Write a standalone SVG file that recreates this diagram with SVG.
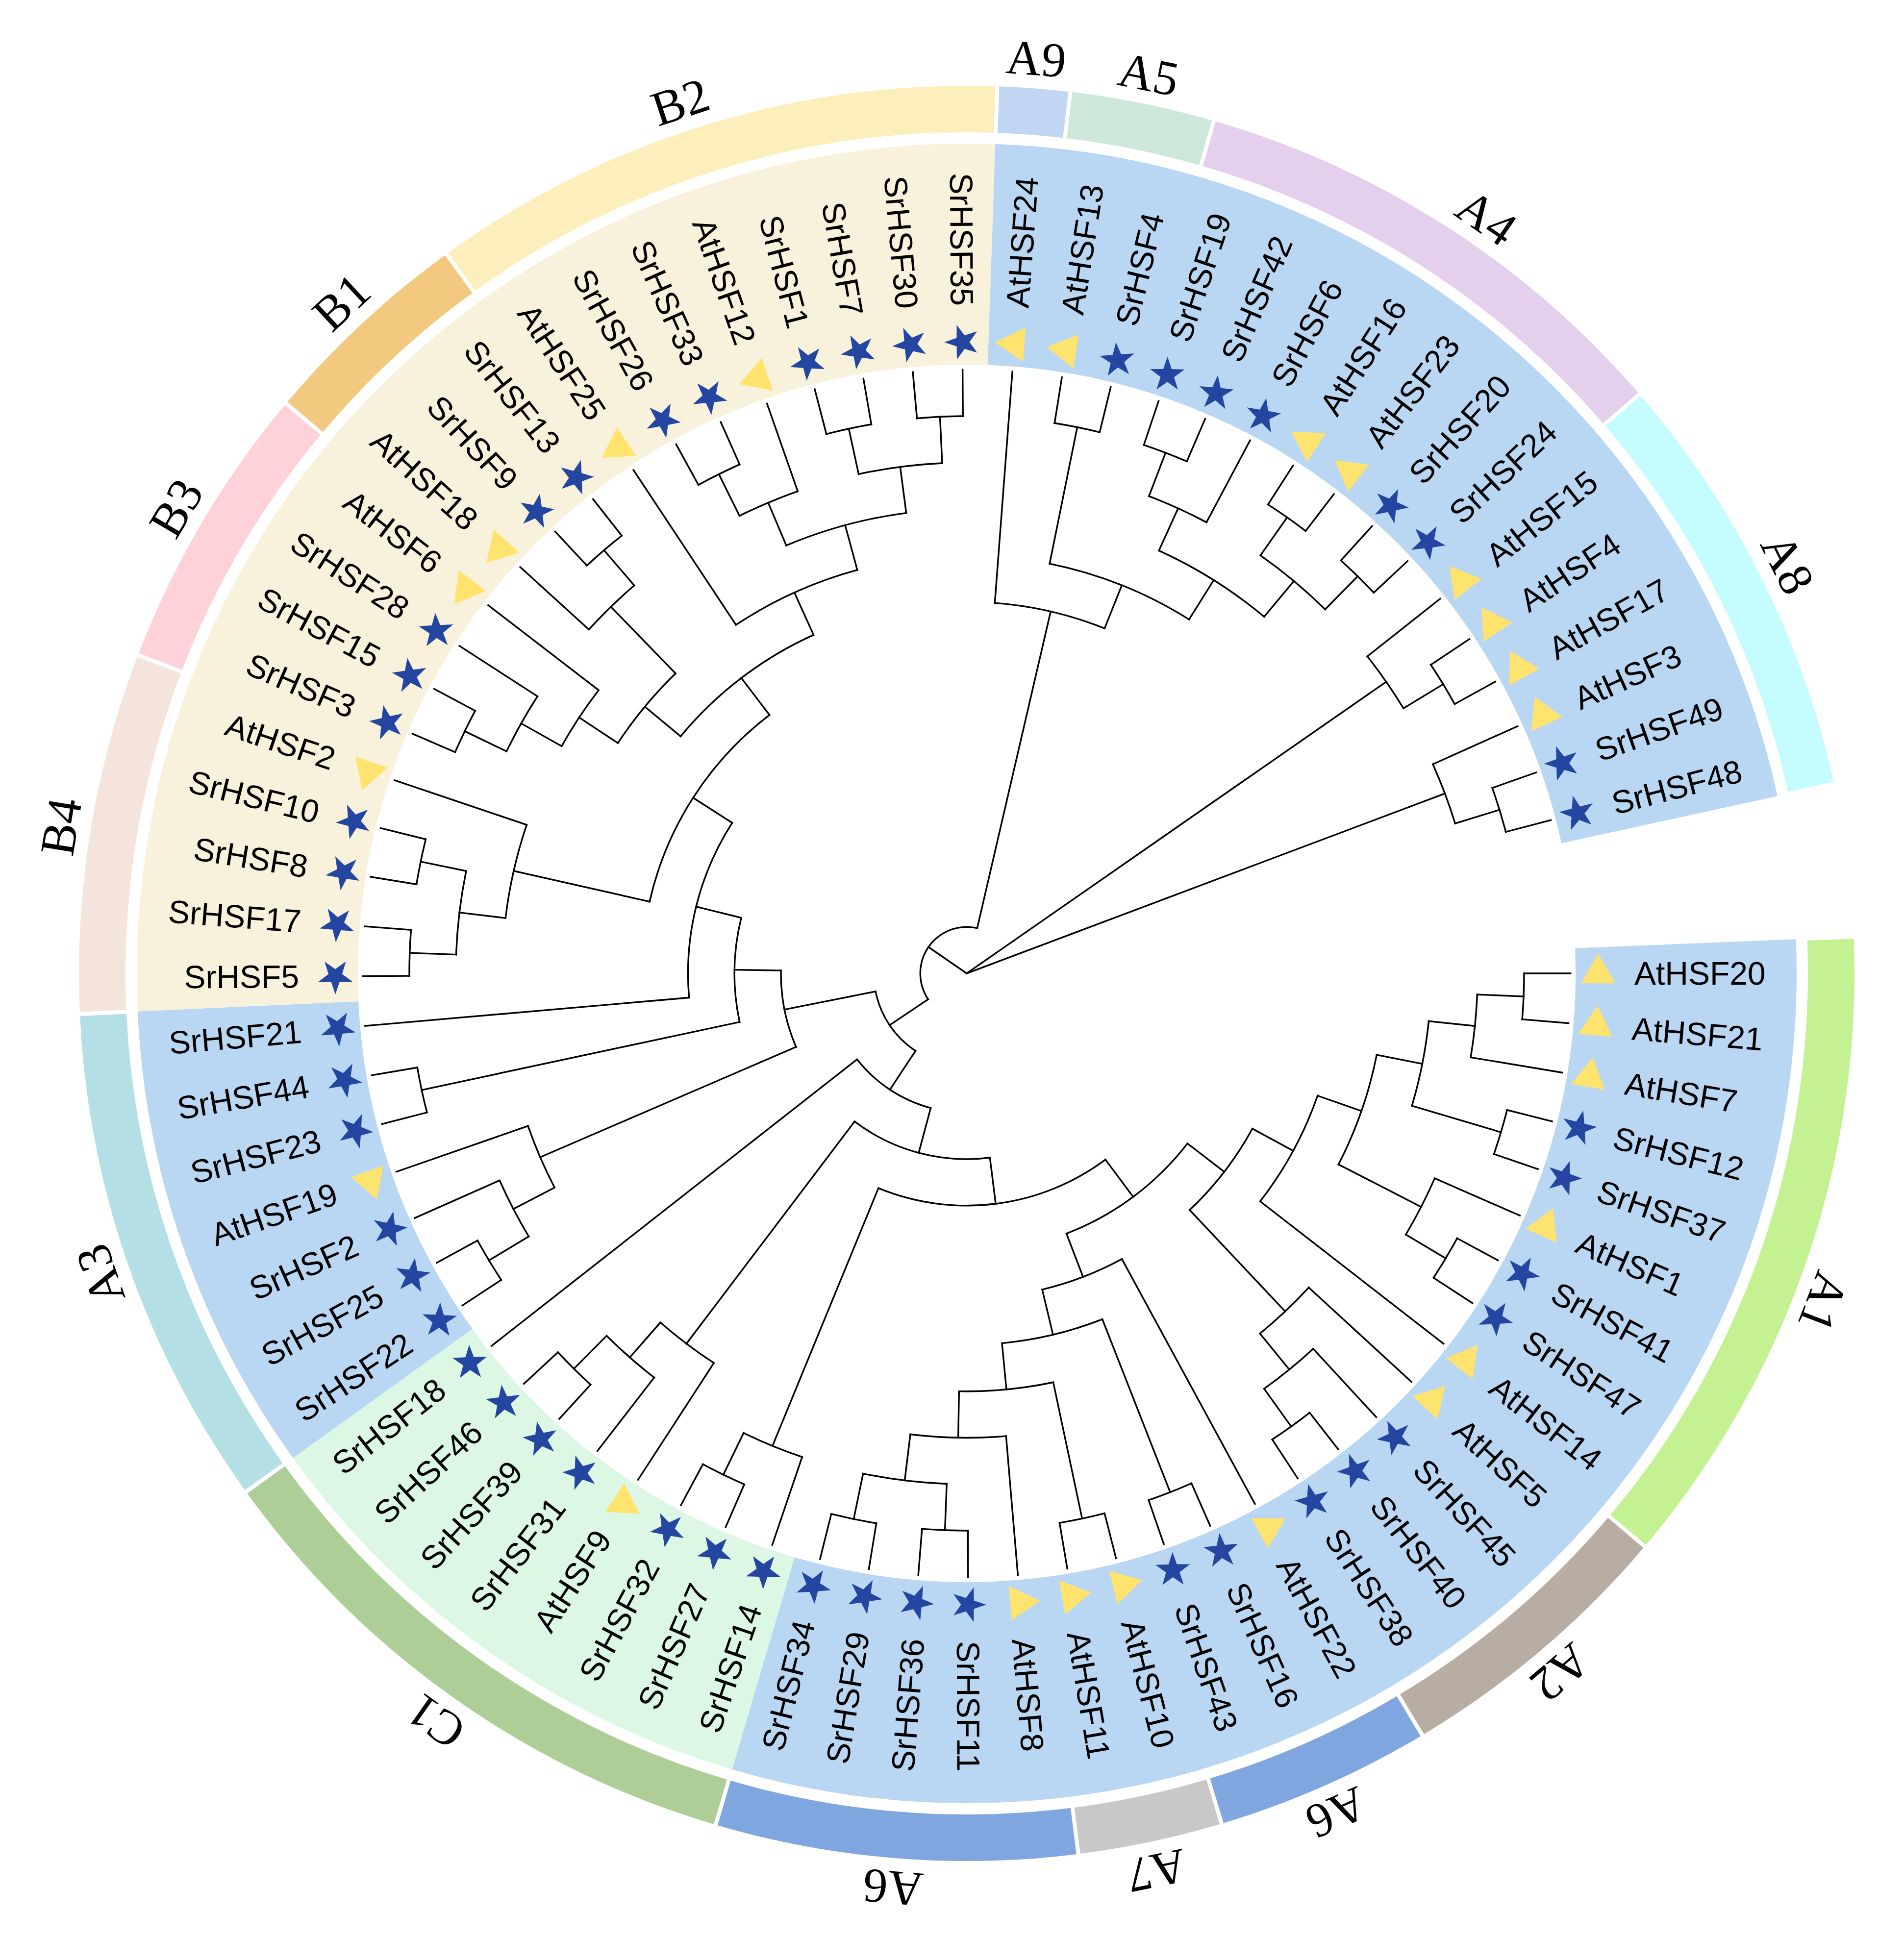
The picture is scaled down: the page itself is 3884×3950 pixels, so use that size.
<svg xmlns="http://www.w3.org/2000/svg" width="3884" height="3950" viewBox="0 0 3884 3950">
<style>
.tree path,.tree circle{fill:none;stroke:#000;stroke-width:3.4;stroke-linecap:square}
.lbl{font-family:"Liberation Sans",Arial,sans-serif;font-size:66px;fill:#000}
.f{text-anchor:end}
.cl{font-family:"Liberation Serif","Times New Roman",serif;font-size:100px;text-anchor:middle;fill:#000}
.star{fill:#2445A0}
.tri{fill:#FFE36F}
.ring{fill:none;stroke-width:95}
.band{fill:none;stroke-width:451}
</style>
<defs>
<polygon id="star" class="star" points="0,-37 8.52,-11.73 35.19,-11.43 13.79,4.48 21.75,29.93 0,14.5 -21.75,29.93 -13.79,4.48 -35.19,-11.43 -8.52,-11.73"/>
<polygon id="tri" class="tri" points="0,-40.4 35,20.2 -35,20.2"/>
</defs>
<rect width="3884" height="3950" fill="#fff"/>
<g transform="translate(1972,1986)">
<g id="bands">
<circle class="band" r="1467.5" pathLength="360" stroke="#B9D7F3" stroke-dasharray="108.79 400" transform="rotate(-2.365)"/>
<circle class="band" r="1467.5" pathLength="360" stroke="#DCF8E4" stroke-dasharray="37.84 400" transform="rotate(106.425)"/>
<circle class="band" r="1467.5" pathLength="360" stroke="#B9D7F3" stroke-dasharray="33.11 400" transform="rotate(144.265)"/>
<circle class="band" r="1467.5" pathLength="360" stroke="#F8F1DB" stroke-dasharray="94.6 400" transform="rotate(177.375)"/>
<circle class="band" r="1467.5" pathLength="360" stroke="#B9D7F3" stroke-dasharray="75.68 400" transform="rotate(271.975)"/>
</g>
<g id="clade-A1"><circle class="ring" r="1763.5" pathLength="360" stroke="#C4F191" stroke-dasharray="42.31 400" transform="rotate(-2.235)"/><text class="cl" transform="rotate(21) translate(1838,0) rotate(90)">A1</text></g>
<g id="clade-A2"><circle class="ring" r="1763.5" pathLength="360" stroke="#B7ADA3" stroke-dasharray="18.66 400" transform="rotate(40.335)"/><text class="cl" transform="rotate(49.67) translate(1838,0) rotate(90)">A2</text></g>
<g id="clade-A6a"><circle class="ring" r="1763.5" pathLength="360" stroke="#7FA6DF" stroke-dasharray="13.93 400" transform="rotate(59.255)"/><text class="cl" transform="rotate(66.22) translate(1838,0) rotate(90)">A6</text></g>
<g id="clade-A7"><circle class="ring" r="1763.5" pathLength="360" stroke="#C8C8C8" stroke-dasharray="9.2 400" transform="rotate(73.445)"/><text class="cl" transform="rotate(78.05) translate(1838,0) rotate(90)">A7</text></g>
<g id="clade-A6b"><circle class="ring" r="1763.5" pathLength="360" stroke="#7FA6DF" stroke-dasharray="23.39 400" transform="rotate(82.905)"/><text class="cl" transform="rotate(94.6) translate(1838,0) rotate(90)">A6</text></g>
<g id="clade-C1"><circle class="ring" r="1763.5" pathLength="360" stroke="#AECE97" stroke-dasharray="37.58 400" transform="rotate(106.555)"/><text class="cl" transform="rotate(125.35) translate(1838,0) rotate(90)">C1</text></g>
<g id="clade-A3"><circle class="ring" r="1763.5" pathLength="360" stroke="#B4E0E5" stroke-dasharray="32.85 400" transform="rotate(144.395)"/><text class="cl" transform="rotate(160.82) translate(1838,0) rotate(90)">A3</text></g>
<g id="clade-B4"><circle class="ring" r="1763.5" pathLength="360" stroke="#F5E4DC" stroke-dasharray="23.39 400" transform="rotate(177.505)"/><text class="cl" transform="rotate(189.2) translate(1838,0) rotate(90)">B4</text></g>
<g id="clade-B3"><circle class="ring" r="1763.5" pathLength="360" stroke="#FFD2DA" stroke-dasharray="18.66 400" transform="rotate(201.155)"/><text class="cl" transform="rotate(210.49) translate(1838,0) rotate(90)">B3</text></g>
<g id="clade-B1"><circle class="ring" r="1763.5" pathLength="360" stroke="#F2C97E" stroke-dasharray="13.93 400" transform="rotate(220.075)"/><text class="cl" transform="rotate(227.04) translate(1838,0) rotate(90)">B1</text></g>
<g id="clade-B2"><circle class="ring" r="1763.5" pathLength="360" stroke="#FCEFBB" stroke-dasharray="37.58 400" transform="rotate(234.265)"/><text class="cl" transform="rotate(251.8) translate(1838,0) rotate(90)">B2</text></g>
<g id="clade-A9"><circle class="ring" r="1763.5" pathLength="360" stroke="#C1D6F2" stroke-dasharray="4.47 400" transform="rotate(272.105)"/><text class="cl" transform="rotate(274.34) translate(1838,0) rotate(90)">A9</text></g>
<g id="clade-A5"><circle class="ring" r="1763.5" pathLength="360" stroke="#CDE8DB" stroke-dasharray="9.2 400" transform="rotate(276.835)"/><text class="cl" transform="rotate(281.44) translate(1838,0) rotate(90)">A5</text></g>
<g id="clade-A4"><circle class="ring" r="1763.5" pathLength="360" stroke="#E4D0ED" stroke-dasharray="32.85 400" transform="rotate(286.295)"/><text class="cl" transform="rotate(304.5) translate(1838,0) rotate(90)">A4</text></g>
<g id="clade-A8"><circle class="ring" r="1763.5" pathLength="360" stroke="#C5FCFE" stroke-dasharray="28.12 400" transform="rotate(319.405)"/><text class="cl" transform="rotate(333.47) translate(1838,0) rotate(90)">A8</text></g>

<g id="connectors" class="tree">
<circle r="94.75" pathLength="360" stroke-dasharray="136.95 400" transform="rotate(146.11)"/>
<circle r="189.5" pathLength="360" stroke-dasharray="45.34 400" transform="rotate(123.44)"/>
<circle r="284.25" pathLength="360" stroke-dasharray="36.93 400" transform="rotate(104.97)"/>
<circle r="379" pathLength="360" stroke-dasharray="24.21 400" transform="rotate(156.68)"/>
<circle r="379" pathLength="360" stroke-dasharray="44.29 400" transform="rotate(82.83)"/>
<circle r="473.75" pathLength="360" stroke-dasharray="25.94 400" transform="rotate(167.92)"/>
<circle r="473.75" pathLength="360" stroke-dasharray="59.02 400" transform="rotate(53.32)"/>
<circle r="568.5" pathLength="360" stroke-dasharray="37.69 400" transform="rotate(175.01)"/>
<circle r="568.5" pathLength="360" stroke-dasharray="31.41 400" transform="rotate(37.62)"/>
<circle r="663.25" pathLength="360" stroke-dasharray="39.91 400" transform="rotate(192.75)"/>
<circle r="663.25" pathLength="360" stroke-dasharray="15.08 400" transform="rotate(61.49)"/>
<circle r="663.25" pathLength="360" stroke-dasharray="18.18 400" transform="rotate(28.53)"/>
<circle r="758" pathLength="360" stroke-dasharray="26.01 400" transform="rotate(219.65)"/>
<circle r="758" pathLength="360" stroke-dasharray="15.96 400" transform="rotate(68.59)"/>
<circle r="758" pathLength="360" stroke-dasharray="18.62 400" transform="rotate(19.22)"/>
<circle r="758" pathLength="360" stroke-dasharray="17.44 400" transform="rotate(274.34)"/>
<circle r="852.75" pathLength="360" stroke-dasharray="12.42 400" transform="rotate(213.44)"/>
<circle r="852.75" pathLength="360" stroke-dasharray="18.33 400" transform="rotate(236.5)"/>
<circle r="852.75" pathLength="360" stroke-dasharray="13 400" transform="rotate(78.05)"/>
<circle r="852.75" pathLength="360" stroke-dasharray="15.97 400" transform="rotate(11.23)"/>
<circle r="852.75" pathLength="360" stroke-dasharray="20.69 400" transform="rotate(281.44)"/>
<circle r="947.5" pathLength="360" stroke-dasharray="15.38 400" transform="rotate(247.14)"/>
<circle r="947.5" pathLength="360" stroke-dasharray="8.28 400" transform="rotate(209.3)"/>
<circle r="947.5" pathLength="360" stroke-dasharray="11.82 400" transform="rotate(186.84)"/>
<circle r="947.5" pathLength="360" stroke-dasharray="8.28 400" transform="rotate(152.54)"/>
<circle r="947.5" pathLength="360" stroke-dasharray="8.28 400" transform="rotate(122.98)"/>
<circle r="947.5" pathLength="360" stroke-dasharray="11.83 400" transform="rotate(85.14)"/>
<circle r="947.5" pathLength="360" stroke-dasharray="10.65 400" transform="rotate(5.91)"/>
<circle r="947.5" pathLength="360" stroke-dasharray="8.28 400" transform="rotate(42.57)"/>
<circle r="947.5" pathLength="360" stroke-dasharray="15.38 400" transform="rotate(294.44)"/>
<circle r="1042.25" pathLength="360" stroke-dasharray="7.09 400" transform="rotate(2.37)"/>
<circle r="1042.25" pathLength="360" stroke-dasharray="7.1 400" transform="rotate(23.65)"/>
<circle r="1042.25" pathLength="360" stroke-dasharray="7.1 400" transform="rotate(47.3)"/>
<circle r="1042.25" pathLength="360" stroke-dasharray="9.46 400" transform="rotate(92.24)"/>
<circle r="1042.25" pathLength="360" stroke-dasharray="7.1 400" transform="rotate(108.79)"/>
<circle r="1042.25" pathLength="360" stroke-dasharray="7.1 400" transform="rotate(127.71)"/>
<circle r="1042.25" pathLength="360" stroke-dasharray="7.09 400" transform="rotate(149)"/>
<circle r="1042.25" pathLength="360" stroke-dasharray="9.46 400" transform="rotate(182.11)"/>
<circle r="1042.25" pathLength="360" stroke-dasharray="7.09 400" transform="rotate(205.76)"/>
<circle r="1042.25" pathLength="360" stroke-dasharray="7.1 400" transform="rotate(222.31)"/>
<circle r="1042.25" pathLength="360" stroke-dasharray="7.09 400" transform="rotate(243.6)"/>
<circle r="1042.25" pathLength="360" stroke-dasharray="9.46 400" transform="rotate(257.79)"/>
<circle r="1042.25" pathLength="360" stroke-dasharray="7.09 400" transform="rotate(290.9)"/>
<circle r="1042.25" pathLength="360" stroke-dasharray="9.46 400" transform="rotate(305.09)"/>
<circle r="1042.25" pathLength="360" stroke-dasharray="7.1 400" transform="rotate(321.64)"/>
<circle r="1042.25" pathLength="360" stroke-dasharray="7.1 400" transform="rotate(335.83)"/>
<circle r="1137" pathLength="360" stroke-dasharray="4.73 400" transform="rotate(0)"/>
<circle r="1137" pathLength="360" stroke-dasharray="4.73 400" transform="rotate(14.19)"/>
<circle r="1137" pathLength="360" stroke-dasharray="4.73 400" transform="rotate(28.38)"/>
<circle r="1137" pathLength="360" stroke-dasharray="4.73 400" transform="rotate(52.03)"/>
<circle r="1137" pathLength="360" stroke-dasharray="4.73 400" transform="rotate(66.22)"/>
<circle r="1137" pathLength="360" stroke-dasharray="4.73 400" transform="rotate(75.68)"/>
<circle r="1137" pathLength="360" stroke-dasharray="4.73 400" transform="rotate(89.87)"/>
<circle r="1137" pathLength="360" stroke-dasharray="4.73 400" transform="rotate(99.33)"/>
<circle r="1137" pathLength="360" stroke-dasharray="4.73 400" transform="rotate(113.52)"/>
<circle r="1137" pathLength="360" stroke-dasharray="4.73 400" transform="rotate(132.44)"/>
<circle r="1137" pathLength="360" stroke-dasharray="4.73 400" transform="rotate(146.63)"/>
<circle r="1137" pathLength="360" stroke-dasharray="4.73 400" transform="rotate(165.55)"/>
<circle r="1137" pathLength="360" stroke-dasharray="4.73 400" transform="rotate(179.74)"/>
<circle r="1137" pathLength="360" stroke-dasharray="4.73 400" transform="rotate(189.2)"/>
<circle r="1137" pathLength="360" stroke-dasharray="4.73 400" transform="rotate(203.39)"/>
<circle r="1137" pathLength="360" stroke-dasharray="4.73 400" transform="rotate(227.04)"/>
<circle r="1137" pathLength="360" stroke-dasharray="4.73 400" transform="rotate(241.23)"/>
<circle r="1137" pathLength="360" stroke-dasharray="4.73 400" transform="rotate(255.42)"/>
<circle r="1137" pathLength="360" stroke-dasharray="4.73 400" transform="rotate(264.88)"/>
<circle r="1137" pathLength="360" stroke-dasharray="4.73 400" transform="rotate(279.07)"/>
<circle r="1137" pathLength="360" stroke-dasharray="4.73 400" transform="rotate(288.53)"/>
<circle r="1137" pathLength="360" stroke-dasharray="4.73 400" transform="rotate(302.72)"/>
<circle r="1137" pathLength="360" stroke-dasharray="4.73 400" transform="rotate(312.18)"/>
<circle r="1137" pathLength="360" stroke-dasharray="4.73 400" transform="rotate(326.37)"/>
<circle r="1137" pathLength="360" stroke-dasharray="4.73 400" transform="rotate(340.56)"/>

<path transform="rotate(214.59)" d="M0 0H94.75"/>
<path transform="rotate(325.19)" d="M0 0H1042.25"/>
<path transform="rotate(339.38)" d="M0 0H1042.25"/>
<path transform="rotate(146.11)" d="M94.75 0H189.5"/>
<path transform="rotate(283.06)" d="M94.75 0H758"/>
<path transform="rotate(123.44)" d="M189.5 0H284.25"/>
<path transform="rotate(168.78)" d="M189.5 0H379"/>
<path transform="rotate(104.97)" d="M284.25 0H379"/>
<path transform="rotate(141.9)" d="M284.25 0H1231.75"/>
<path transform="rotate(156.68)" d="M379 0H947.5"/>
<path transform="rotate(180.89)" d="M379 0H473.75"/>
<path transform="rotate(82.83)" d="M379 0H473.75"/>
<path transform="rotate(127.12)" d="M379 0H947.5"/>
<path transform="rotate(167.92)" d="M473.75 0H1137"/>
<path transform="rotate(193.86)" d="M473.75 0H568.5"/>
<path transform="rotate(53.32)" d="M473.75 0H568.5"/>
<path transform="rotate(112.34)" d="M473.75 0H1042.25"/>
<path transform="rotate(175.01)" d="M568.5 0H1231.75"/>
<path transform="rotate(212.7)" d="M568.5 0H663.25"/>
<path transform="rotate(37.62)" d="M568.5 0H663.25"/>
<path transform="rotate(69.03)" d="M568.5 0H663.25"/>
<path transform="rotate(192.75)" d="M663.25 0H947.5"/>
<path transform="rotate(232.66)" d="M663.25 0H758"/>
<path transform="rotate(61.49)" d="M663.25 0H1231.75"/>
<path transform="rotate(76.57)" d="M663.25 0H758"/>
<path transform="rotate(28.53)" d="M663.25 0H758"/>
<path transform="rotate(46.71)" d="M663.25 0H947.5"/>
<path transform="rotate(219.65)" d="M758 0H852.75"/>
<path transform="rotate(245.66)" d="M758 0H852.75"/>
<path transform="rotate(68.59)" d="M758 0H1137"/>
<path transform="rotate(84.55)" d="M758 0H852.75"/>
<path transform="rotate(19.22)" d="M758 0H852.75"/>
<path transform="rotate(37.84)" d="M758 0H1231.75"/>
<path transform="rotate(274.34)" d="M758 0H1231.75"/>
<path transform="rotate(291.78)" d="M758 0H852.75"/>
<path transform="rotate(213.44)" d="M852.75 0H947.5"/>
<path transform="rotate(225.86)" d="M852.75 0H1042.25"/>
<path transform="rotate(236.5)" d="M852.75 0H1231.75"/>
<path transform="rotate(254.83)" d="M852.75 0H947.5"/>
<path transform="rotate(78.05)" d="M852.75 0H1137"/>
<path transform="rotate(91.05)" d="M852.75 0H947.5"/>
<path transform="rotate(11.23)" d="M852.75 0H947.5"/>
<path transform="rotate(27.2)" d="M852.75 0H1042.25"/>
<path transform="rotate(281.44)" d="M852.75 0H1137"/>
<path transform="rotate(302.13)" d="M852.75 0H947.5"/>
<path transform="rotate(247.14)" d="M947.5 0H1042.25"/>
<path transform="rotate(262.52)" d="M947.5 0H1042.25"/>
<path transform="rotate(209.3)" d="M947.5 0H1042.25"/>
<path transform="rotate(217.58)" d="M947.5 0H1231.75"/>
<path transform="rotate(186.84)" d="M947.5 0H1042.25"/>
<path transform="rotate(198.66)" d="M947.5 0H1231.75"/>
<path transform="rotate(152.54)" d="M947.5 0H1042.25"/>
<path transform="rotate(160.82)" d="M947.5 0H1231.75"/>
<path transform="rotate(122.98)" d="M947.5 0H1231.75"/>
<path transform="rotate(131.26)" d="M947.5 0H1042.25"/>
<path transform="rotate(85.14)" d="M947.5 0H1231.75"/>
<path transform="rotate(96.97)" d="M947.5 0H1042.25"/>
<path transform="rotate(5.91)" d="M947.5 0H1042.25"/>
<path transform="rotate(16.56)" d="M947.5 0H1137"/>
<path transform="rotate(42.57)" d="M947.5 0H1231.75"/>
<path transform="rotate(50.85)" d="M947.5 0H1042.25"/>
<path transform="rotate(294.44)" d="M947.5 0H1042.25"/>
<path transform="rotate(309.82)" d="M947.5 0H1042.25"/>
<path transform="rotate(2.37)" d="M1042.25 0H1137"/>
<path transform="rotate(9.46)" d="M1042.25 0H1231.75"/>
<path transform="rotate(23.65)" d="M1042.25 0H1231.75"/>
<path transform="rotate(30.75)" d="M1042.25 0H1137"/>
<path transform="rotate(47.3)" d="M1042.25 0H1231.75"/>
<path transform="rotate(54.4)" d="M1042.25 0H1137"/>
<path transform="rotate(92.24)" d="M1042.25 0H1137"/>
<path transform="rotate(101.7)" d="M1042.25 0H1137"/>
<path transform="rotate(108.79)" d="M1042.25 0H1231.75"/>
<path transform="rotate(115.89)" d="M1042.25 0H1137"/>
<path transform="rotate(127.71)" d="M1042.25 0H1231.75"/>
<path transform="rotate(134.81)" d="M1042.25 0H1137"/>
<path transform="rotate(149)" d="M1042.25 0H1137"/>
<path transform="rotate(156.09)" d="M1042.25 0H1231.75"/>
<path transform="rotate(182.11)" d="M1042.25 0H1137"/>
<path transform="rotate(191.57)" d="M1042.25 0H1137"/>
<path transform="rotate(205.76)" d="M1042.25 0H1137"/>
<path transform="rotate(212.85)" d="M1042.25 0H1231.75"/>
<path transform="rotate(222.31)" d="M1042.25 0H1231.75"/>
<path transform="rotate(229.41)" d="M1042.25 0H1137"/>
<path transform="rotate(243.6)" d="M1042.25 0H1137"/>
<path transform="rotate(250.69)" d="M1042.25 0H1231.75"/>
<path transform="rotate(257.79)" d="M1042.25 0H1137"/>
<path transform="rotate(267.25)" d="M1042.25 0H1137"/>
<path transform="rotate(290.9)" d="M1042.25 0H1137"/>
<path transform="rotate(297.99)" d="M1042.25 0H1231.75"/>
<path transform="rotate(305.09)" d="M1042.25 0H1137"/>
<path transform="rotate(314.55)" d="M1042.25 0H1137"/>
<path transform="rotate(321.64)" d="M1042.25 0H1231.75"/>
<path transform="rotate(328.74)" d="M1042.25 0H1137"/>
<path transform="rotate(335.83)" d="M1042.25 0H1231.75"/>
<path transform="rotate(342.93)" d="M1042.25 0H1137"/>
<path transform="rotate(0)" d="M1137 0H1231.75"/>
<path transform="rotate(4.73)" d="M1137 0H1231.75"/>
<path transform="rotate(14.19)" d="M1137 0H1231.75"/>
<path transform="rotate(18.92)" d="M1137 0H1231.75"/>
<path transform="rotate(28.38)" d="M1137 0H1231.75"/>
<path transform="rotate(33.11)" d="M1137 0H1231.75"/>
<path transform="rotate(52.03)" d="M1137 0H1231.75"/>
<path transform="rotate(56.76)" d="M1137 0H1231.75"/>
<path transform="rotate(66.22)" d="M1137 0H1231.75"/>
<path transform="rotate(70.95)" d="M1137 0H1231.75"/>
<path transform="rotate(75.68)" d="M1137 0H1231.75"/>
<path transform="rotate(80.41)" d="M1137 0H1231.75"/>
<path transform="rotate(89.87)" d="M1137 0H1231.75"/>
<path transform="rotate(94.6)" d="M1137 0H1231.75"/>
<path transform="rotate(99.33)" d="M1137 0H1231.75"/>
<path transform="rotate(104.06)" d="M1137 0H1231.75"/>
<path transform="rotate(113.52)" d="M1137 0H1231.75"/>
<path transform="rotate(118.25)" d="M1137 0H1231.75"/>
<path transform="rotate(132.44)" d="M1137 0H1231.75"/>
<path transform="rotate(137.17)" d="M1137 0H1231.75"/>
<path transform="rotate(146.63)" d="M1137 0H1231.75"/>
<path transform="rotate(151.36)" d="M1137 0H1231.75"/>
<path transform="rotate(165.55)" d="M1137 0H1231.75"/>
<path transform="rotate(170.28)" d="M1137 0H1231.75"/>
<path transform="rotate(179.74)" d="M1137 0H1231.75"/>
<path transform="rotate(184.47)" d="M1137 0H1231.75"/>
<path transform="rotate(189.2)" d="M1137 0H1231.75"/>
<path transform="rotate(193.93)" d="M1137 0H1231.75"/>
<path transform="rotate(203.39)" d="M1137 0H1231.75"/>
<path transform="rotate(208.12)" d="M1137 0H1231.75"/>
<path transform="rotate(227.04)" d="M1137 0H1231.75"/>
<path transform="rotate(231.77)" d="M1137 0H1231.75"/>
<path transform="rotate(241.23)" d="M1137 0H1231.75"/>
<path transform="rotate(245.96)" d="M1137 0H1231.75"/>
<path transform="rotate(255.42)" d="M1137 0H1231.75"/>
<path transform="rotate(260.15)" d="M1137 0H1231.75"/>
<path transform="rotate(264.88)" d="M1137 0H1231.75"/>
<path transform="rotate(269.61)" d="M1137 0H1231.75"/>
<path transform="rotate(279.07)" d="M1137 0H1231.75"/>
<path transform="rotate(283.8)" d="M1137 0H1231.75"/>
<path transform="rotate(288.53)" d="M1137 0H1231.75"/>
<path transform="rotate(293.26)" d="M1137 0H1231.75"/>
<path transform="rotate(302.72)" d="M1137 0H1231.75"/>
<path transform="rotate(307.45)" d="M1137 0H1231.75"/>
<path transform="rotate(312.18)" d="M1137 0H1231.75"/>
<path transform="rotate(316.91)" d="M1137 0H1231.75"/>
<path transform="rotate(326.37)" d="M1137 0H1231.75"/>
<path transform="rotate(331.1)" d="M1137 0H1231.75"/>
<path transform="rotate(340.56)" d="M1137 0H1231.75"/>
<path transform="rotate(345.29)" d="M1137 0H1231.75"/>
</g>

<g id="leaves">
<g id="leaf-AtHSF20" transform="rotate(0)"><use href="#tri" x="1288"/><text class="lbl" x="1362" dy=".35em">AtHSF20</text></g>
<g id="leaf-AtHSF21" transform="rotate(4.73)"><use href="#tri" x="1288"/><text class="lbl" x="1362" dy=".35em">AtHSF21</text></g>
<g id="leaf-AtHSF7" transform="rotate(9.46)"><use href="#tri" x="1288"/><text class="lbl" x="1362" dy=".35em">AtHSF7</text></g>
<g id="leaf-SrHSF12" transform="rotate(14.19)"><use href="#star" x="1288"/><text class="lbl" x="1362" dy=".35em">SrHSF12</text></g>
<g id="leaf-SrHSF37" transform="rotate(18.92)"><use href="#star" x="1288"/><text class="lbl" x="1362" dy=".35em">SrHSF37</text></g>
<g id="leaf-AtHSF1" transform="rotate(23.65)"><use href="#tri" x="1288"/><text class="lbl" x="1362" dy=".35em">AtHSF1</text></g>
<g id="leaf-SrHSF41" transform="rotate(28.38)"><use href="#star" x="1288"/><text class="lbl" x="1362" dy=".35em">SrHSF41</text></g>
<g id="leaf-SrHSF47" transform="rotate(33.11)"><use href="#star" x="1288"/><text class="lbl" x="1362" dy=".35em">SrHSF47</text></g>
<g id="leaf-AtHSF14" transform="rotate(37.84)"><use href="#tri" x="1288"/><text class="lbl" x="1362" dy=".35em">AtHSF14</text></g>
<g id="leaf-AtHSF5" transform="rotate(42.57)"><use href="#tri" x="1288"/><text class="lbl" x="1362" dy=".35em">AtHSF5</text></g>
<g id="leaf-SrHSF45" transform="rotate(47.3)"><use href="#star" x="1288"/><text class="lbl" x="1362" dy=".35em">SrHSF45</text></g>
<g id="leaf-SrHSF40" transform="rotate(52.03)"><use href="#star" x="1288"/><text class="lbl" x="1362" dy=".35em">SrHSF40</text></g>
<g id="leaf-SrHSF38" transform="rotate(56.76)"><use href="#star" x="1288"/><text class="lbl" x="1362" dy=".35em">SrHSF38</text></g>
<g id="leaf-AtHSF22" transform="rotate(61.49)"><use href="#tri" x="1288"/><text class="lbl" x="1362" dy=".35em">AtHSF22</text></g>
<g id="leaf-SrHSF16" transform="rotate(66.22)"><use href="#star" x="1288"/><text class="lbl" x="1362" dy=".35em">SrHSF16</text></g>
<g id="leaf-SrHSF43" transform="rotate(70.95)"><use href="#star" x="1288"/><text class="lbl" x="1362" dy=".35em">SrHSF43</text></g>
<g id="leaf-AtHSF10" transform="rotate(75.68)"><use href="#tri" x="1288"/><text class="lbl" x="1362" dy=".35em">AtHSF10</text></g>
<g id="leaf-AtHSF11" transform="rotate(80.41)"><use href="#tri" x="1288"/><text class="lbl" x="1362" dy=".35em">AtHSF11</text></g>
<g id="leaf-AtHSF8" transform="rotate(85.14)"><use href="#tri" x="1288"/><text class="lbl" x="1362" dy=".35em">AtHSF8</text></g>
<g id="leaf-SrHSF11" transform="rotate(89.87)"><use href="#star" x="1288"/><text class="lbl" x="1362" dy=".35em">SrHSF11</text></g>
<g id="leaf-SrHSF36" transform="rotate(94.6)"><use href="#star" x="1288"/><text class="lbl f" x="-1362" dy=".35em" transform="rotate(180)">SrHSF36</text></g>
<g id="leaf-SrHSF29" transform="rotate(99.33)"><use href="#star" x="1288"/><text class="lbl f" x="-1362" dy=".35em" transform="rotate(180)">SrHSF29</text></g>
<g id="leaf-SrHSF34" transform="rotate(104.06)"><use href="#star" x="1288"/><text class="lbl f" x="-1362" dy=".35em" transform="rotate(180)">SrHSF34</text></g>
<g id="leaf-SrHSF14" transform="rotate(108.79)"><use href="#star" x="1288"/><text class="lbl f" x="-1362" dy=".35em" transform="rotate(180)">SrHSF14</text></g>
<g id="leaf-SrHSF27" transform="rotate(113.52)"><use href="#star" x="1288"/><text class="lbl f" x="-1362" dy=".35em" transform="rotate(180)">SrHSF27</text></g>
<g id="leaf-SrHSF32" transform="rotate(118.25)"><use href="#star" x="1288"/><text class="lbl f" x="-1362" dy=".35em" transform="rotate(180)">SrHSF32</text></g>
<g id="leaf-AtHSF9" transform="rotate(122.98)"><use href="#tri" x="1288"/><text class="lbl f" x="-1362" dy=".35em" transform="rotate(180)">AtHSF9</text></g>
<g id="leaf-SrHSF31" transform="rotate(127.71)"><use href="#star" x="1288"/><text class="lbl f" x="-1362" dy=".35em" transform="rotate(180)">SrHSF31</text></g>
<g id="leaf-SrHSF39" transform="rotate(132.44)"><use href="#star" x="1288"/><text class="lbl f" x="-1362" dy=".35em" transform="rotate(180)">SrHSF39</text></g>
<g id="leaf-SrHSF46" transform="rotate(137.17)"><use href="#star" x="1288"/><text class="lbl f" x="-1362" dy=".35em" transform="rotate(180)">SrHSF46</text></g>
<g id="leaf-SrHSF18" transform="rotate(141.9)"><use href="#star" x="1288"/><text class="lbl f" x="-1362" dy=".35em" transform="rotate(180)">SrHSF18</text></g>
<g id="leaf-SrHSF22" transform="rotate(146.63)"><use href="#star" x="1288"/><text class="lbl f" x="-1362" dy=".35em" transform="rotate(180)">SrHSF22</text></g>
<g id="leaf-SrHSF25" transform="rotate(151.36)"><use href="#star" x="1288"/><text class="lbl f" x="-1362" dy=".35em" transform="rotate(180)">SrHSF25</text></g>
<g id="leaf-SrHSF2" transform="rotate(156.09)"><use href="#star" x="1288"/><text class="lbl f" x="-1362" dy=".35em" transform="rotate(180)">SrHSF2</text></g>
<g id="leaf-AtHSF19" transform="rotate(160.82)"><use href="#tri" x="1288"/><text class="lbl f" x="-1362" dy=".35em" transform="rotate(180)">AtHSF19</text></g>
<g id="leaf-SrHSF23" transform="rotate(165.55)"><use href="#star" x="1288"/><text class="lbl f" x="-1362" dy=".35em" transform="rotate(180)">SrHSF23</text></g>
<g id="leaf-SrHSF44" transform="rotate(170.28)"><use href="#star" x="1288"/><text class="lbl f" x="-1362" dy=".35em" transform="rotate(180)">SrHSF44</text></g>
<g id="leaf-SrHSF21" transform="rotate(175.01)"><use href="#star" x="1288"/><text class="lbl f" x="-1362" dy=".35em" transform="rotate(180)">SrHSF21</text></g>
<g id="leaf-SrHSF5" transform="rotate(179.74)"><use href="#star" x="1288"/><text class="lbl f" x="-1362" dy=".35em" transform="rotate(180)">SrHSF5</text></g>
<g id="leaf-SrHSF17" transform="rotate(184.47)"><use href="#star" x="1288"/><text class="lbl f" x="-1362" dy=".35em" transform="rotate(180)">SrHSF17</text></g>
<g id="leaf-SrHSF8" transform="rotate(189.2)"><use href="#star" x="1288"/><text class="lbl f" x="-1362" dy=".35em" transform="rotate(180)">SrHSF8</text></g>
<g id="leaf-SrHSF10" transform="rotate(193.93)"><use href="#star" x="1288"/><text class="lbl f" x="-1362" dy=".35em" transform="rotate(180)">SrHSF10</text></g>
<g id="leaf-AtHSF2" transform="rotate(198.66)"><use href="#tri" x="1288"/><text class="lbl f" x="-1362" dy=".35em" transform="rotate(180)">AtHSF2</text></g>
<g id="leaf-SrHSF3" transform="rotate(203.39)"><use href="#star" x="1288"/><text class="lbl f" x="-1362" dy=".35em" transform="rotate(180)">SrHSF3</text></g>
<g id="leaf-SrHSF15" transform="rotate(208.12)"><use href="#star" x="1288"/><text class="lbl f" x="-1362" dy=".35em" transform="rotate(180)">SrHSF15</text></g>
<g id="leaf-SrHSF28" transform="rotate(212.85)"><use href="#star" x="1288"/><text class="lbl f" x="-1362" dy=".35em" transform="rotate(180)">SrHSF28</text></g>
<g id="leaf-AtHSF6" transform="rotate(217.58)"><use href="#tri" x="1288"/><text class="lbl f" x="-1362" dy=".35em" transform="rotate(180)">AtHSF6</text></g>
<g id="leaf-AtHSF18" transform="rotate(222.31)"><use href="#tri" x="1288"/><text class="lbl f" x="-1362" dy=".35em" transform="rotate(180)">AtHSF18</text></g>
<g id="leaf-SrHSF9" transform="rotate(227.04)"><use href="#star" x="1288"/><text class="lbl f" x="-1362" dy=".35em" transform="rotate(180)">SrHSF9</text></g>
<g id="leaf-SrHSF13" transform="rotate(231.77)"><use href="#star" x="1288"/><text class="lbl f" x="-1362" dy=".35em" transform="rotate(180)">SrHSF13</text></g>
<g id="leaf-AtHSF25" transform="rotate(236.5)"><use href="#tri" x="1288"/><text class="lbl f" x="-1362" dy=".35em" transform="rotate(180)">AtHSF25</text></g>
<g id="leaf-SrHSF26" transform="rotate(241.23)"><use href="#star" x="1288"/><text class="lbl f" x="-1362" dy=".35em" transform="rotate(180)">SrHSF26</text></g>
<g id="leaf-SrHSF33" transform="rotate(245.96)"><use href="#star" x="1288"/><text class="lbl f" x="-1362" dy=".35em" transform="rotate(180)">SrHSF33</text></g>
<g id="leaf-AtHSF12" transform="rotate(250.69)"><use href="#tri" x="1288"/><text class="lbl f" x="-1362" dy=".35em" transform="rotate(180)">AtHSF12</text></g>
<g id="leaf-SrHSF1" transform="rotate(255.42)"><use href="#star" x="1288"/><text class="lbl f" x="-1362" dy=".35em" transform="rotate(180)">SrHSF1</text></g>
<g id="leaf-SrHSF7" transform="rotate(260.15)"><use href="#star" x="1288"/><text class="lbl f" x="-1362" dy=".35em" transform="rotate(180)">SrHSF7</text></g>
<g id="leaf-SrHSF30" transform="rotate(264.88)"><use href="#star" x="1288"/><text class="lbl f" x="-1362" dy=".35em" transform="rotate(180)">SrHSF30</text></g>
<g id="leaf-SrHSF35" transform="rotate(269.61)"><use href="#star" x="1288"/><text class="lbl f" x="-1362" dy=".35em" transform="rotate(180)">SrHSF35</text></g>
<g id="leaf-AtHSF24" transform="rotate(274.34)"><use href="#tri" x="1288"/><text class="lbl" x="1362" dy=".35em">AtHSF24</text></g>
<g id="leaf-AtHSF13" transform="rotate(279.07)"><use href="#tri" x="1288"/><text class="lbl" x="1362" dy=".35em">AtHSF13</text></g>
<g id="leaf-SrHSF4" transform="rotate(283.8)"><use href="#star" x="1288"/><text class="lbl" x="1362" dy=".35em">SrHSF4</text></g>
<g id="leaf-SrHSF19" transform="rotate(288.53)"><use href="#star" x="1288"/><text class="lbl" x="1362" dy=".35em">SrHSF19</text></g>
<g id="leaf-SrHSF42" transform="rotate(293.26)"><use href="#star" x="1288"/><text class="lbl" x="1362" dy=".35em">SrHSF42</text></g>
<g id="leaf-SrHSF6" transform="rotate(297.99)"><use href="#star" x="1288"/><text class="lbl" x="1362" dy=".35em">SrHSF6</text></g>
<g id="leaf-AtHSF16" transform="rotate(302.72)"><use href="#tri" x="1288"/><text class="lbl" x="1362" dy=".35em">AtHSF16</text></g>
<g id="leaf-AtHSF23" transform="rotate(307.45)"><use href="#tri" x="1288"/><text class="lbl" x="1362" dy=".35em">AtHSF23</text></g>
<g id="leaf-SrHSF20" transform="rotate(312.18)"><use href="#star" x="1288"/><text class="lbl" x="1362" dy=".35em">SrHSF20</text></g>
<g id="leaf-SrHSF24" transform="rotate(316.91)"><use href="#star" x="1288"/><text class="lbl" x="1362" dy=".35em">SrHSF24</text></g>
<g id="leaf-AtHSF15" transform="rotate(321.64)"><use href="#tri" x="1288"/><text class="lbl" x="1362" dy=".35em">AtHSF15</text></g>
<g id="leaf-AtHSF4" transform="rotate(326.37)"><use href="#tri" x="1288"/><text class="lbl" x="1362" dy=".35em">AtHSF4</text></g>
<g id="leaf-AtHSF17" transform="rotate(331.1)"><use href="#tri" x="1288"/><text class="lbl" x="1362" dy=".35em">AtHSF17</text></g>
<g id="leaf-AtHSF3" transform="rotate(335.83)"><use href="#tri" x="1288"/><text class="lbl" x="1362" dy=".35em">AtHSF3</text></g>
<g id="leaf-SrHSF49" transform="rotate(340.56)"><use href="#star" x="1288"/><text class="lbl" x="1362" dy=".35em">SrHSF49</text></g>
<g id="leaf-SrHSF48" transform="rotate(345.29)"><use href="#star" x="1288"/><text class="lbl" x="1362" dy=".35em">SrHSF48</text></g>
</g>
</g>
</svg>
